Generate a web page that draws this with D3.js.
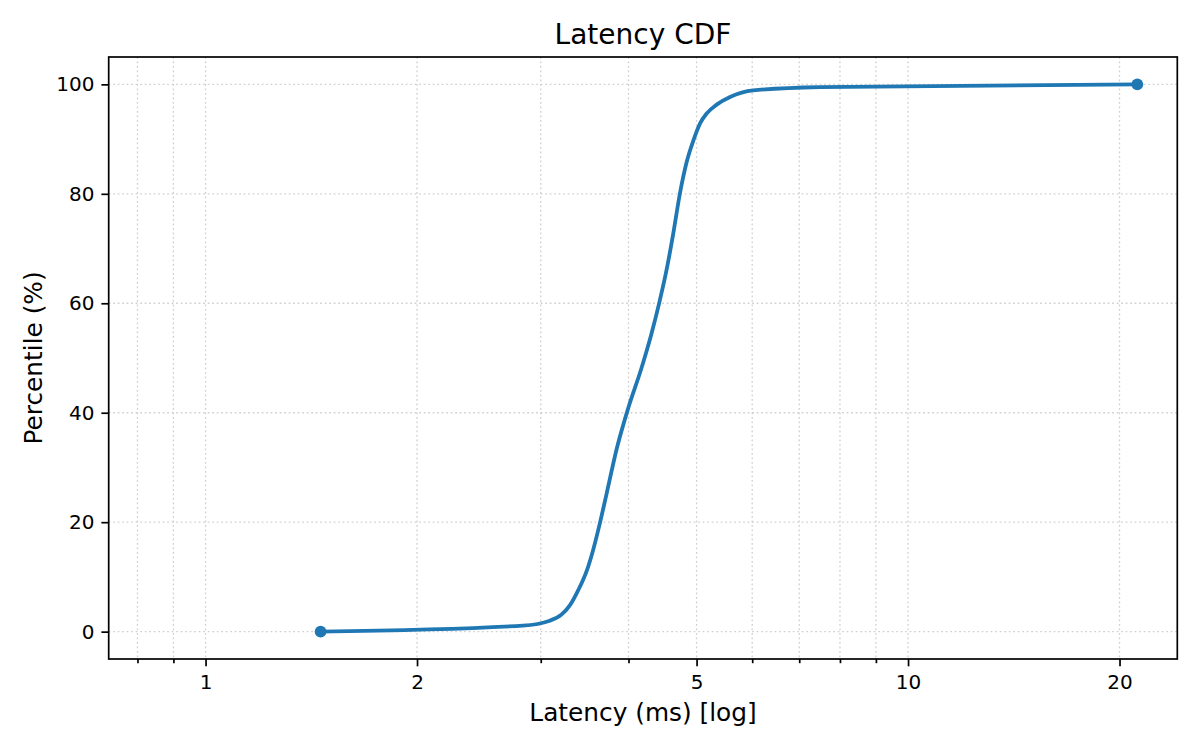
<!DOCTYPE html>
<html>
<head>
<meta charset="utf-8">
<script src="https://cdn.jsdelivr.net/npm/d3@7"></script>
<style>
    body { margin: 0; background: #fff; }
    svg { font-family: "DejaVu Sans", sans-serif; }
</style>
</head>
<body>
<svg id="cdf" width="1200" height="750"></svg>
<script>
// latency values (ms) and the percentile reached at each one
let latencyMs = [1.458, 2.83, 3.09, 3.21, 3.30, 3.39, 3.49, 3.56, 3.64, 3.72, 3.85, 4.00, 4.17,
    4.31, 4.43, 4.53, 4.63, 4.735, 4.84, 4.95, 5.06, 5.17, 5.34, 5.58, 6.02, 7.49, 21.2];
let percentile = [0, 1.1, 2.0, 3.1, 4.8, 7.5, 11.2, 14.8, 19.7, 25, 33.5, 41, 48,
    54.3, 60.4, 66, 72.6, 80.1, 85.8, 89.8, 92.9, 94.7, 96.3, 97.7, 98.9, 99.5, 100];

let xMajorTicks = [1, 2, 5, 10, 20];
let xMinorTicks = [0.8, 0.9, 3, 4, 6, 7, 8, 9];
let yTicks = [0, 20, 40, 60, 80, 100];

let svg = d3.select("#cdf"),
    margin = {top: 57, right: 22.7, bottom: 91, left: 108.7},
    width = 1200 - margin.left - margin.right,
    height = 750 - margin.top - margin.bottom,
    g = svg.append("g").attr("transform", "translate(" + margin.left + "," + margin.top + ")");

let blue = "#1f77b4";

let scaleX = d3.scaleLog()
    .domain([0.728, 24.17])
    .range([0, width]);

let scaleY = d3.scaleLinear()
    .domain([-5, 105])
    .range([height, 0]);

let data = latencyMs.map((d, i) => ({ms: d, pct: percentile[i]}));

// grid (dotted, minor x lines included)
g.append("g")
    .selectAll("line")
    .data(xMajorTicks.concat(xMinorTicks))
    .enter().append("line")
    .attr("x1", d => scaleX(d))
    .attr("x2", d => scaleX(d))
    .attr("y1", 0)
    .attr("y2", height)
    .attr("stroke", "#cfcfcf")
    .attr("stroke-width", 1.3)
    .attr("stroke-dasharray", "1.7,2.8");

g.append("g")
    .selectAll("line")
    .data(yTicks)
    .enter().append("line")
    .attr("x1", 0)
    .attr("x2", width)
    .attr("y1", d => scaleY(d))
    .attr("y2", d => scaleY(d))
    .attr("stroke", "#cfcfcf")
    .attr("stroke-width", 1.3)
    .attr("stroke-dasharray", "1.7,2.8");

// the curve
let line = d3.line()
    .x(d => scaleX(d.ms))
    .y(d => scaleY(d.pct))
    .curve(d3.curveMonotoneX);

g.append("path")
    .datum(data)
    .attr("d", line)
    .attr("fill", "none")
    .attr("stroke", blue)
    .attr("stroke-width", 3.8)
    .attr("stroke-linejoin", "round")
    .attr("stroke-linecap", "square");

// markers only on the first and last point
g.selectAll(".endpoint")
    .data([data[0], data[data.length - 1]])
    .enter().append("circle")
    .attr("class", "endpoint")
    .attr("cx", d => scaleX(d.ms))
    .attr("cy", d => scaleY(d.pct))
    .attr("r", 5.9)
    .attr("fill", blue);

// axes
let xAxis = g.append("g")
    .attr("transform", "translate(0," + height + ")")
    .call(d3.axisBottom(scaleX).tickValues(xMajorTicks).tickFormat(d3.format("d"))
        .tickSize(7.3).tickPadding(7).tickSizeOuter(0));

g.append("g")
    .attr("transform", "translate(0," + height + ")")
    .call(d3.axisBottom(scaleX).tickValues(xMinorTicks).tickFormat("")
        .tickSize(4.2).tickSizeOuter(0))
    .select(".domain").remove();

let yAxis = g.append("g")
    .call(d3.axisLeft(scaleY).tickValues(yTicks).tickFormat(d3.format("d"))
        .tickSize(7.3).tickPadding(7).tickSizeOuter(0));

svg.selectAll(".tick line").attr("stroke", "#000").attr("stroke-width", 1.7);
svg.selectAll(".domain").remove();
svg.selectAll(".tick text")
    .attr("fill", "#000")
    .style("font-size", "20px")
    .style("font-family", "'DejaVu Sans', sans-serif");
xAxis.selectAll(".tick text").attr("dy", "0.78em");

// frame
g.append("rect")
    .attr("width", width)
    .attr("height", height)
    .attr("fill", "none")
    .attr("stroke", "#000")
    .attr("stroke-width", 1.7);

// labels
svg.append("text")
    .attr("x", margin.left + width / 2)
    .attr("y", 43.5)
    .attr("text-anchor", "middle")
    .style("font-size", "28px")
    .text("Latency CDF");

svg.append("text")
    .attr("x", margin.left + width / 2)
    .attr("y", 721)
    .attr("text-anchor", "middle")
    .style("font-size", "24.8px")
    .text("Latency (ms) [log]");

svg.append("text")
    .attr("transform", "translate(42," + (margin.top + height / 2) + ") rotate(-90)")
    .attr("text-anchor", "middle")
    .style("font-size", "24.8px")
    .text("Percentile (%)");
</script>
</body>
</html>
